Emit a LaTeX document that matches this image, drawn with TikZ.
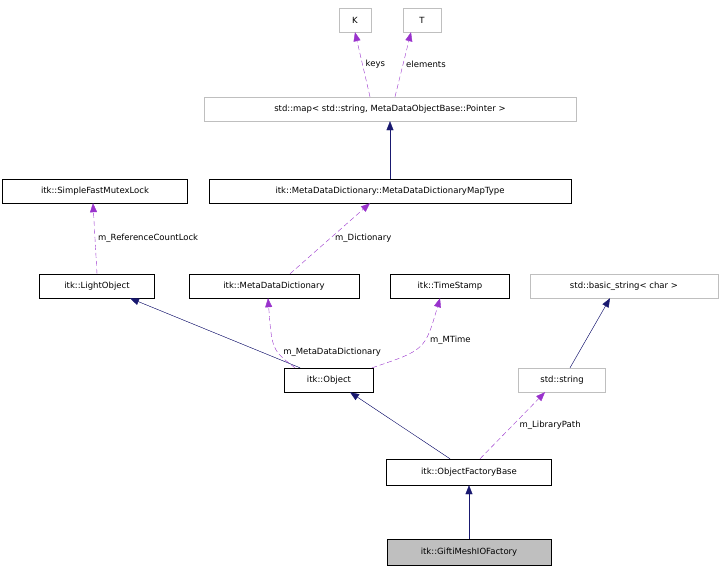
\documentclass[tikz,border=0pt]{standalone}
\usepackage{fontspec}
\setmainfont{DejaVu Sans}
\usetikzlibrary{arrows.meta}
\definecolor{navy}{RGB}{25,25,112}
\definecolor{orch}{RGB}{153,50,204}
\definecolor{lgray}{RGB}{191,191,191}
\begin{document}
\begin{tikzpicture}[x=1pt,y=-1pt,
  box/.style={draw=black,fill=white,inner sep=0pt,minimum height=24pt,font=\fontsize{8.5}{10}\selectfont},
  gbox/.style={box,draw=lgray},
  inh/.style={draw=navy,-{Triangle[length=9pt,width=7pt]},fill=navy},
  use/.style={draw=orch,dashed,dash pattern=on 5pt off 3pt,-{Triangle[length=9pt,width=7pt,fill=orch]}},
  lab/.style={font=\fontsize{8.5}{10}\selectfont,inner sep=1pt}]
\useasboundingbox (0,0) rectangle (723,573);
\node[gbox,minimum width=32pt] (K) at (355,20) {K};
\node[gbox,minimum width=38pt] (T) at (422,20) {T};
\node[gbox,minimum width=372pt] (map) at (390,109) {std::map< std::string, MetaDataObjectBase::Pointer >};
\node[box,minimum width=362pt] (mt) at (390,191) {itk::MetaDataDictionary::MetaDataDictionaryMapType};
\node[box,minimum width=185pt] (sfm) at (95,191) {itk::SimpleFastMutexLock};
\node[box,minimum width=115pt] (lo) at (97,286) {itk::LightObject};
\node[box,minimum width=170pt] (mdd) at (274,286) {itk::MetaDataDictionary};
\node[box,minimum width=119pt] (ts) at (450,286) {itk::TimeStamp};
\node[gbox,minimum width=188pt] (bs) at (624,286) {std::basic\_string< char >};
\node[box,minimum width=89pt] (obj) at (329,380) {itk::Object};
\node[gbox,minimum width=87pt] (str) at (562,380) {std::string};
\node[box,minimum width=165pt,minimum height=26pt] (ofb) at (469,472) {itk::ObjectFactoryBase};
\node[box,minimum width=164pt,minimum height=26pt,fill=lgray] (gm) at (469,552) {itk::GiftiMeshIOFactory};

\draw[use] ([xshift=-20pt]map.north) -- ([xshift=0pt]K.south) node[lab,pos=0.5,right=2pt] {keys};
\draw[use] ([xshift=5pt]map.north) -- ([xshift=-11pt]T.south) node[lab,pos=0.5,right=2pt] {elements};
\draw[inh] (mt.north) -- (map.south);
\draw[use] ([xshift=16pt]mdd.north) -- ([xshift=-20pt]mt.south) node[lab,pos=0.5,right=4pt] {m\_Dictionary};
\draw[use] (lo.north) -- ([xshift=-2pt]sfm.south) node[lab,pos=0.5,right=2pt] {m\_ReferenceCountLock};
\draw[inh] ([xshift=-29pt]obj.north) -- ([xshift=33pt]lo.south);
\draw[use] ([xshift=-34pt]obj.north) .. controls (272,350) .. ([xshift=-6pt]mdd.south) node[lab,pos=0.35,right=4pt] {m\_MetaDataDictionary};
\draw[use] ([xshift=43pt]obj.north) .. controls (425,350) .. ([xshift=-10pt]ts.south) node[lab,pos=0.6,right=4pt] {m\_MTime};
\draw[inh] ([xshift=8pt]str.north) -- ([xshift=-14pt]bs.south);
\draw[inh] ([xshift=-19pt]ofb.north) -- ([xshift=21pt]obj.south);
\draw[use] ([xshift=11pt]ofb.north) -- ([xshift=-17pt]str.south) node[lab,pos=0.5,right=6pt] {m\_LibraryPath};
\draw[inh] (gm.north) -- (ofb.south);
\end{tikzpicture}
\end{document}
